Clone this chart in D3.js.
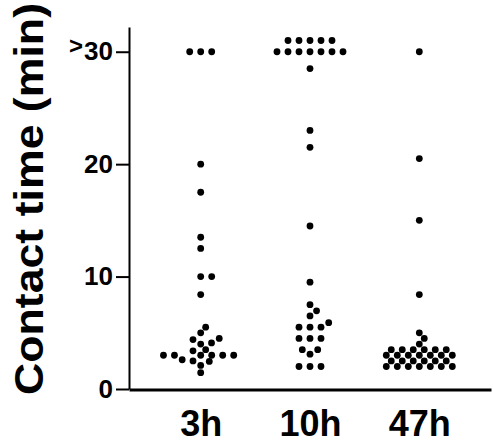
<!DOCTYPE html>
<html>
<head>
<meta charset="utf-8">
<script src="https://cdn.jsdelivr.net/npm/d3@7/dist/d3.min.js"></script>
<style>
  html, body { margin: 0; padding: 0; background: #fff; }
  svg text { font-family: "Liberation Sans", Arial, sans-serif; font-weight: bold; fill: #000; }
</style>
</head>
<body>
<div id="chart"></div>
<script>
// values (">30" points drawn on the 30/31 rows as in the original)
const categories = ['3h', '10h', '47h'];
const values3h = [30, 30, 30, 20, 17.5, 13.5, 12.5, 10, 10, 8.4, 5.5, 5.0, 4.5, 4.4, 4.1, 4.0,
  3.5, 3.4, 3, 3, 3, 3, 3, 3, 2.6, 2.5, 2.45, 2.1, 1.45];
const values10h = [31, 31, 31, 31, 31, 30, 30, 30, 30, 30, 30, 30, 28.5, 23, 21.5, 14.5, 9.5,
  7.5, 6.95, 6.5, 5.9, 5.5, 5.5, 5.5, 4.5, 4.5, 4.5, 3.5, 3.5, 3.1, 2, 2, 2];
const values47h = [30, 20.5, 15, 8.4, 5.0, 4.5, 4.0, 3.5, 3.5, 3.5, 3.5, 3.5, 3.5,
  3, 3, 3, 3, 3, 3, 3, 2.5, 2.5, 2.5, 2.5, 2.5, 2.5, 2, 2, 2, 2, 2, 2, 2];
const seriesValues = [values3h, values10h, values47h];
const yTicks = [0, 10, 20, 30];
const yTickLabels = ['0', '10', '20', '30'];

const width = 493, height = 443;
const svg = d3.select('#chart').append('svg')
  .attr('width', width)
  .attr('height', height);

const x = d3.scalePoint().domain(categories).range([129, 491]).padding(0.656);
const y = d3.scaleLinear().domain([0, 32.2]).range([389, 27]);

const r = 3.4;
const sx = 11;   // horizontal spacing of neighbours in a row
const sy = 6.3;  // vertical reach of a dot

// simple beeswarm: each point goes to the free x nearest the column centre
function swarm(vals) {
  const pts = vals.map(v => ({ v: v, py: y(v) })).sort((a, b) => a.v - b.v);
  const placed = [];
  pts.forEach(p => {
    const near = placed.filter(q => Math.abs(q.py - p.py) < sy);
    const cands = [0];
    near.forEach(q => {
      const dy = (q.py - p.py) / sy;
      const dx = sx * Math.sqrt(1 - dy * dy);
      cands.push(q.dx - dx, q.dx + dx);
    });
    cands.sort((a, b) => Math.abs(a) - Math.abs(b) || b - a);
    const ok = c => near.every(q => {
      const ex = (c - q.dx) / sx, ey = (p.py - q.py) / sy;
      return ex * ex + ey * ey >= 0.999;
    });
    p.dx = cands.find(ok);
    placed.push(p);
  });
  return placed;
}

// axes
const yAxis = svg.append('g')
  .attr('transform', 'translate(129,0)')
  .call(d3.axisLeft(y).tickValues(yTicks).tickSize(13).tickSizeOuter(0).tickPadding(3)
    .tickFormat((d, i) => yTickLabels[i]));
yAxis.select('.domain').attr('stroke', '#000').attr('stroke-width', 2);
yAxis.selectAll('.tick line').attr('stroke', '#000').attr('stroke-width', 2);
yAxis.selectAll('.tick text').style('font-size', '26px');
// the top tick reads ">30": raised ">" in front
yAxis.selectAll('.tick text').filter(d => d === 30)
  .text(null)
  .call(t => {
    t.append('tspan').style('font-size', '24px').attr('dy', '0.06em').text('>');
    t.append('tspan').attr('dy', '0.25em').attr('dx', '1').text(yTickLabels[3]);
  });

const xAxis = svg.append('g')
  .attr('transform', 'translate(0,389.5)')
  .call(d3.axisBottom(x).tickSize(0).tickSizeOuter(0).tickPadding(21));
xAxis.select('.domain').attr('stroke', '#000').attr('stroke-width', 3);
xAxis.selectAll('.tick text').style('font-size', '36px');

svg.append('text')
  .attr('transform', 'translate(43,199) rotate(-90)')
  .attr('text-anchor', 'middle')
  .attr('textLength', 392)
  .attr('lengthAdjust', 'spacingAndGlyphs')
  .style('font-size', '41px')
  .text('Contact time (min)');

// dots
categories.forEach((c, i) => {
  svg.append('g').selectAll('circle')
    .data(swarm(seriesValues[i]))
    .enter()
    .append('circle')
    .attr('cx', d => x(c) + d.dx)
    .attr('cy', d => d.py)
    .attr('r', r)
    .attr('fill', '#000');
});
</script>
</body>
</html>
